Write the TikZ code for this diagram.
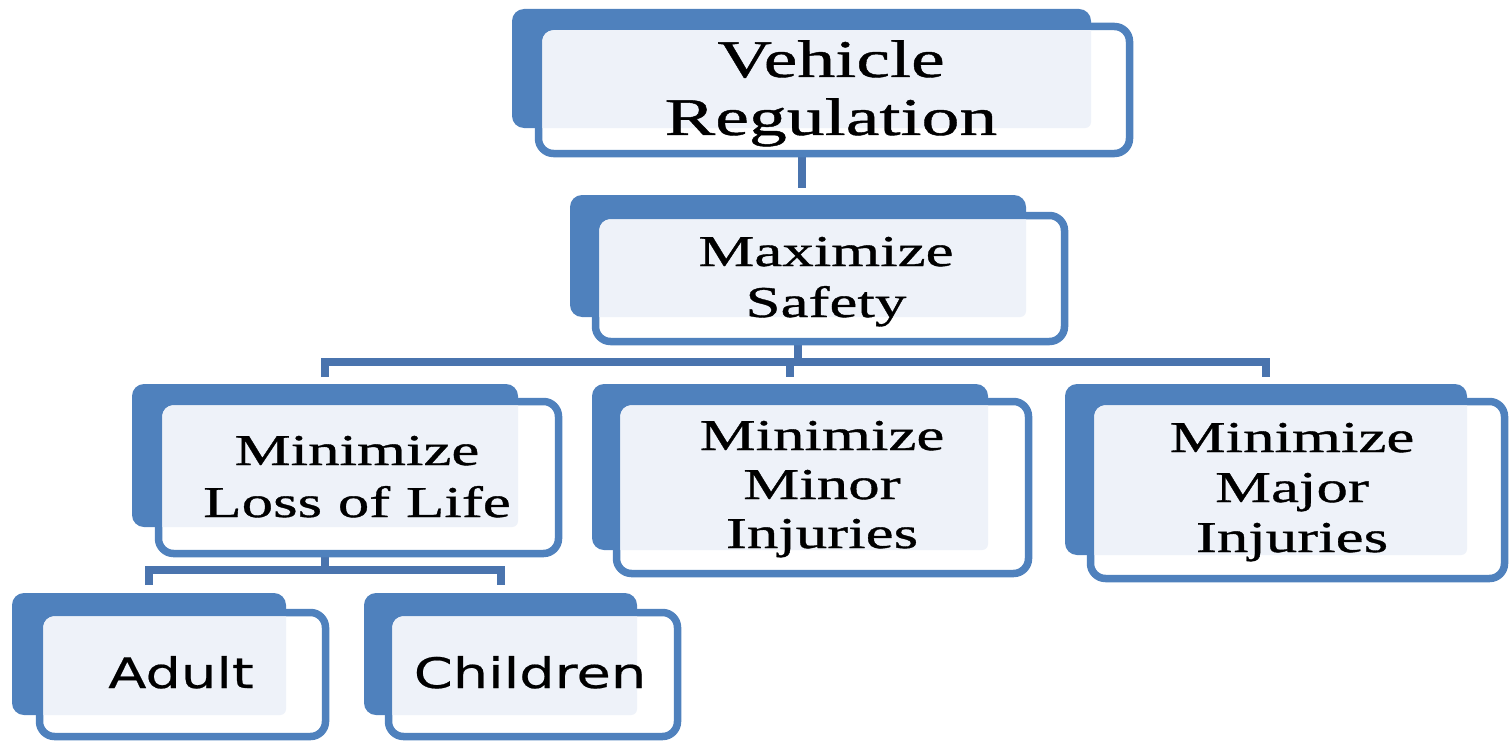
\documentclass[tikz,border=0pt]{standalone}
\usepackage{fontspec}
\newfontfamily\boxserif[FakeStretch=1.43,FakeBold=0.8]{Liberation Serif}
\newfontfamily\boxsans[FakeStretch=1.33,FakeBold=0.5]{DejaVu Sans}
\usetikzlibrary{calc}
\definecolor{boxblue}{HTML}{4F81BD}
\definecolor{connblue}{HTML}{4A74AE}
\definecolor{lightfill}{HTML}{EEF2F9}
\pgfdeclarelayer{bg}\pgfsetlayers{bg,main}
\tikzset{
  backbox/.style={fill=boxblue, rounded corners=12pt, inner sep=0pt, outer sep=0pt, draw=none},
  frontbox/.style={fill=white, draw=boxblue, line width=7.5pt, rounded corners=15pt, inner sep=0pt, outer sep=0pt},
  conn/.style={draw=connblue, line width=8pt},
  label/.style={anchor=base, align=center, inner sep=0pt, text=black},
}
\newcommand{\mkbox}[9]{%
  \node[backbox, minimum width={(#4-#2)*1pt}, minimum height={(#5-#3)*1pt}] (#1b) at ({(#2+#4)/2},{(#3+#5)/2}) {};
  \node[frontbox, minimum width={(#8-#6)*1pt}, minimum height={(#9-#7)*1pt}] (#1f) at ({(#6+#8)/2},{(#7+#9)/2}) {};
  \begin{scope}
    \clip[rounded corners=11pt] (#6+3.75,#7+3.75) rectangle (#8-3.75,#9-3.75);
    \fill[lightfill, rounded corners=6pt] (#2,#3) rectangle (#4,#5);
  \end{scope}
}
\begin{document}
\begin{tikzpicture}[x=1pt,y=-1pt]
\useasboundingbox (0,0) rectangle (1511,741);
\mkbox{v}{512}{9}{1091}{128}{538.5}{26.5}{1129.5}{153.5}
\mkbox{s}{570}{195}{1026}{317}{595.5}{215.5}{1064.5}{341.5}
\mkbox{l}{132}{384}{518}{527}{158.5}{401.5}{558.5}{553.5}
\mkbox{mi}{592}{384}{988}{550}{616.5}{401.5}{1028.5}{573.5}
\mkbox{ma}{1065}{384}{1467}{555}{1090.5}{401.5}{1504.5}{578.5}
\mkbox{a}{12}{593}{286}{715}{39.5}{612.5}{325.5}{736.5}
\mkbox{c}{364}{593}{637}{715}{388.5}{612.5}{677.5}{736.5}

\node[label, font=\boxserif\fontsize{53}{58}\selectfont] (vt) at (831,135) {Vehicle\\Regulation};
\node[label, font=\boxserif\fontsize{44}{51}\selectfont] (st) at (826,317) {Maximize\\Safety};
\node[label, font=\boxserif\fontsize{44}{52}\selectfont] (lt) at (357,517) {Minimize\\Loss of Life};
\node[label, font=\boxserif\fontsize{44}{49}\selectfont] (mit) at (822,548) {Minimize\\Minor\\Injuries};
\node[label, font=\boxserif\fontsize{44}{50}\selectfont] (mat) at (1292,552) {Minimize\\Major\\Injuries};
\node[label, font=\boxsans\fontsize{42}{48}\selectfont] (at) at (181,688) {Adult};
\node[label, font=\boxsans\fontsize{42}{48}\selectfont] (ct) at (530,688) {Children};

\coordinate (bus1) at (0,362);
\coordinate (bus2) at (0,570);
\begin{pgfonlayer}{bg}
  \draw[conn] (vb.center) -- ([yshift=7pt]vb.center |- sb.north);
  \draw[conn] (sb.center) -- (sb.center |- bus1);
  \draw[conn] ([yshift=7pt]lb.north) |- (bus1 -| mab.north) -- ([yshift=7pt]mab.north);
  \draw[conn] (mib.north |- bus1) -- ([yshift=7pt]mib.north);
  \draw[conn] (lb.center) -- (lb.center |- bus2);
  \draw[conn] ([yshift=8pt]ab.north) |- (bus2 -| cb.north) -- ([yshift=8pt]cb.north);
\end{pgfonlayer}
\end{tikzpicture}
\end{document}
